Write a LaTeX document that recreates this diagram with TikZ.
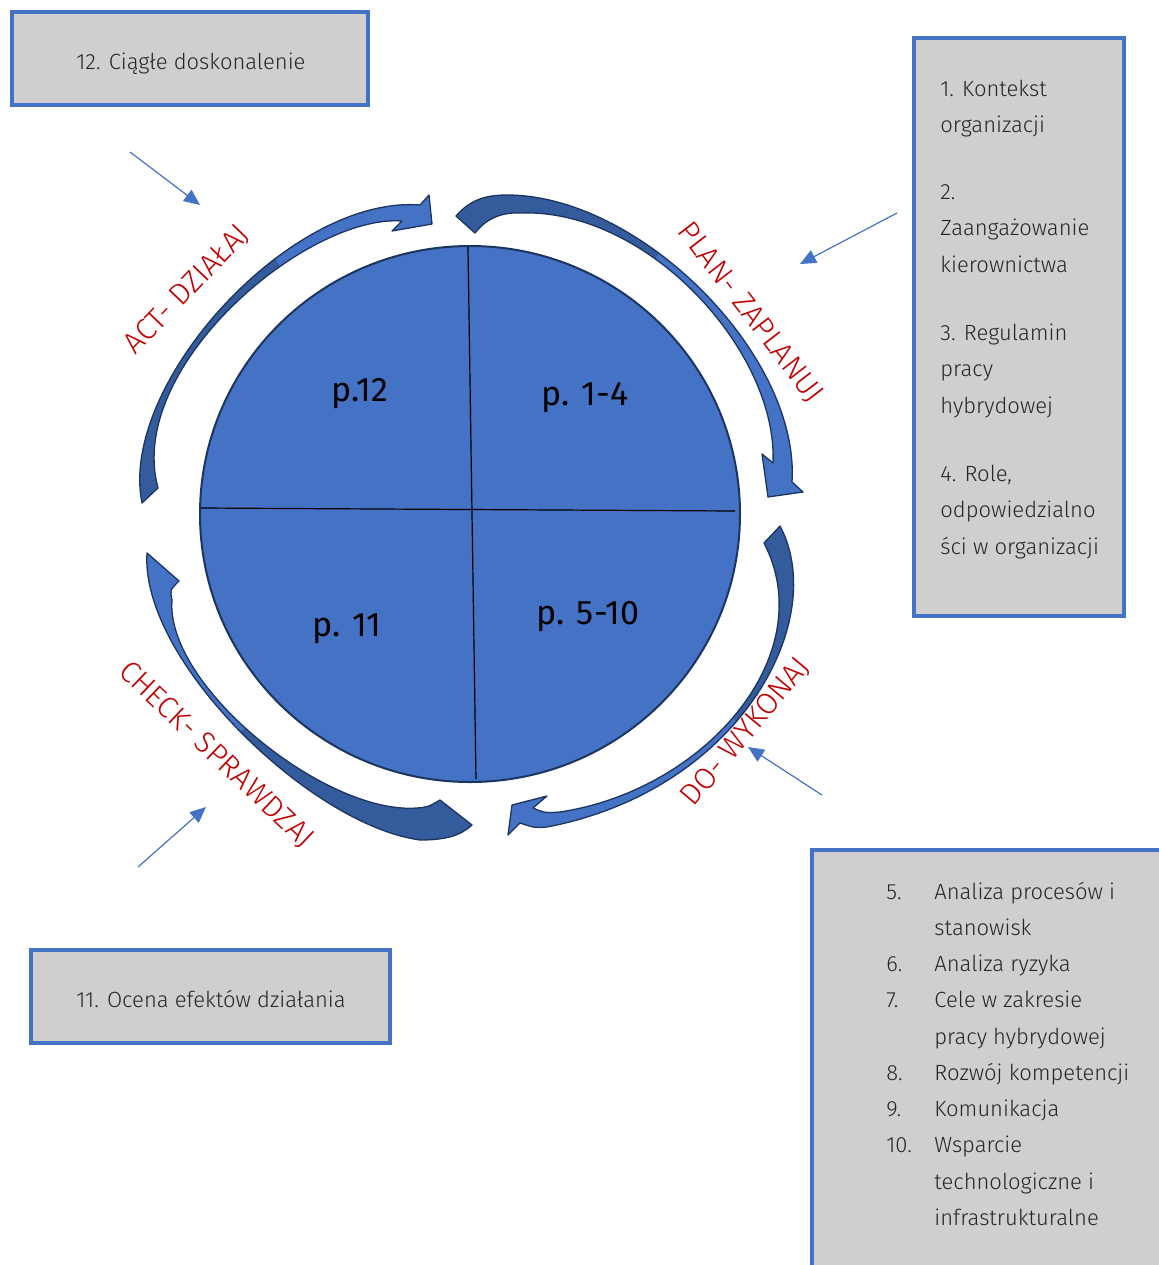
\documentclass[tikz,border=0pt]{standalone}
\usepackage{fontspec}
\IfFontExistsTF{Fira Sans Light}{\setmainfont{Fira Sans Light}}{\setmainfont{Fira Sans}}
\newfontfamily\regfont{Fira Sans}
\usetikzlibrary{arrows.meta}
\definecolor{ablue}{HTML}{4472C4}
\definecolor{adark}{HTML}{345B9C}
\definecolor{aline}{HTML}{1C355E}
\definecolor{boxgray}{HTML}{D0CECE}
\definecolor{lblred}{HTML}{C00000}
\definecolor{txt}{HTML}{262626}
\begin{document}
\begin{tikzpicture}[x=0.5pt,y=-0.5pt,
  infobox/.style={draw=ablue, line width=2pt, fill=boxgray},
  boxtext/.style={anchor=base west, inner sep=0pt, font=\fontsize{11}{13}\selectfont, text=txt},
  phase/.style={font=\fontsize{15}{17}\selectfont, text=lblred, inner sep=0pt},
  qlabel/.style={font=\regfont\fontsize{17}{19}\selectfont, text=black, inner sep=0pt},
  pointer/.style={draw=ablue, line width=0.6pt, -{Triangle[length=8pt,width=7pt]}},
  band/.style={draw=aline, line width=0.65pt, line join=round},
  divider/.style={draw=black, line width=0.6pt}
]
\useasboundingbox (0,0) rectangle (1159,1265);

% ---------- boxes ----------
\path[infobox] (12,12) rectangle (368,105);
\node[boxtext] (t12) at (76,69) {12. Ciągłe doskonalenie};

\path[infobox] (914,38) rectangle (1124,616);
\node[boxtext] (t1a) at (940,96) {1. Kontekst};
\node[boxtext] (t1b) at (940,132) {organizacji};
\node[boxtext] (t2a) at (940,199) {2.};
\node[boxtext] (t2b) at (940,235.5) {Zaangażowanie};
\node[boxtext] (t2c) at (940,272) {kierownictwa};
\node[boxtext] (t3a) at (940,340) {3. Regulamin};
\node[boxtext] (t3b) at (940,376.5) {pracy};
\node[boxtext] (t3c) at (940,413) {hybrydowej};
\node[boxtext] (t4a) at (940,481) {4. Role,};
\node[boxtext] (t4b) at (940,517.5) {odpowiedzialno};
\node[boxtext] (t4c) at (940,554) {ści w organizacji};

\begin{scope}
  \clip (0,0) rectangle (1159,1265);
  \path[infobox] (812,850) rectangle (1175,1290);
\end{scope}
\node[boxtext] (n5) at (886,899) {5.};
\node[boxtext] (i5a) at (934,899) {Analiza procesów i};
\node[boxtext] (i5b) at (934,935) {stanowisk};
\node[boxtext] (n6) at (886,971) {6.};
\node[boxtext] (i6) at (934,971) {Analiza ryzyka};
\node[boxtext] (n7) at (886,1007) {7.};
\node[boxtext] (i7a) at (934,1007) {Cele w zakresie};
\node[boxtext] (i7b) at (934,1044) {pracy hybrydowej};
\node[boxtext] (n8) at (886,1080) {8.};
\node[boxtext] (i8) at (934,1080) {Rozwój kompetencji};
\node[boxtext] (n9) at (886,1116) {9.};
\node[boxtext] (i9) at (934,1116) {Komunikacja};
\node[boxtext] (n10) at (886,1152) {10.};
\node[boxtext] (i10a) at (934,1152) {Wsparcie};
\node[boxtext] (i10b) at (934,1189) {technologiczne i};
\node[boxtext] (i10c) at (934,1225) {infrastrukturalne};

\path[infobox] (31,950) rectangle (390,1043);
\node[boxtext] (t11) at (76,1007) {11. Ocena efektów działania};

% ---------- central circle ----------
\draw[draw=aline, line width=1pt, fill=ablue] (470,514) ellipse [x radius=135pt, y radius=134pt];
\coordinate (vtop) at (468,247);
\coordinate (vbot) at (476,779);
\coordinate (hl) at (201,508);
\coordinate (hr) at (735,511);
\draw[divider] (vtop) -- (vbot);
\draw[divider] (hl) -- (hr);
\node[qlabel] (q12) at (360,394) {p.12};
\node[qlabel] (q14) at (585,398) {p. 1-4};
\node[qlabel] (q11) at (347,629) {p. 11};
\node[qlabel] (q510) at (588,617) {p. 5-10};

% ---------- ACT arrow ----------
\begin{scope}
  \clip (142,503) .. controls (118,385) and (290,195) .. (420,205) -- (429,195) -- (432,224) -- (392,231) -- (402,221) .. controls (307,214) and (125,367) .. (158,488) -- cycle;
  \fill[ablue] (100,150) rectangle (450,520);
  \fill[adark] (215,158) -- (335,358) -- (335,560) -- (60,560) -- (60,158) -- cycle;
\end{scope}
\draw[band] (142,503) .. controls (118,385) and (290,195) .. (420,205) -- (429,195) -- (432,224) -- (392,231) -- (402,221) .. controls (307,214) and (125,367) .. (158,488) -- cycle;

% ---------- PLAN arrow ----------
\begin{scope}
  \clip (456,216) .. controls (470,200) and (485,195) .. (507,195) .. controls (640,195) and (800,355) .. (792,482) -- (803,492) -- (768,497) -- (762,454) -- (773,463) .. controls (778,352) and (648,208) .. (520,213) .. controls (500,212) and (485,220) .. (475,233) -- cycle;
  \fill[ablue] (430,170) rectangle (830,520);
  \fill[adark] (612,316) -- (702,196) -- (702,150) -- (420,150) -- (420,316) -- cycle;
\end{scope}
\draw[band] (456,216) .. controls (470,200) and (485,195) .. (507,195) .. controls (640,195) and (800,355) .. (792,482) -- (803,492) -- (768,497) -- (762,454) -- (773,463) .. controls (778,352) and (648,208) .. (520,213) .. controls (500,212) and (485,220) .. (475,233) -- cycle;

% ---------- DO arrow ----------
\begin{scope}
  \clip (780,526) .. controls (830,620) and (740,790) .. (547,827) .. controls (535,828) .. (520,823) -- (508,835) -- (512,805) -- (547,796) -- (533,808) .. controls (545,813) .. (560,812) .. controls (705,790) and (822,655) .. (764,543) -- cycle;
  \fill[ablue] (490,500) rectangle (850,860);
  \fill[adark] (693,675) -- (777,765) -- (850,765) -- (850,500) -- (693,500) -- cycle;
\end{scope}
\draw[band] (780,526) .. controls (830,620) and (740,790) .. (547,827) .. controls (535,828) .. (520,823) -- (508,835) -- (512,805) -- (547,796) -- (533,808) .. controls (545,813) .. (560,812) .. controls (705,790) and (822,655) .. (764,543) -- cycle;

% ---------- CHECK arrow ----------
\begin{scope}
  \clip (440,800) -- (472,825) .. controls (460,836) and (445,840) .. (420,840) .. controls (310,825) and (140,660) .. (147,553) -- (179,581) .. controls (170,590) .. (172,600) .. controls (165,685) and (325,815) .. (417,808) .. controls (428,807) .. (440,800) -- cycle;
  \fill[ablue] (120,530) rectangle (500,870);
  \fill[adark] (190,783) -- (290,683) -- (520,683) -- (520,880) -- (190,880) -- cycle;
\end{scope}
\draw[band] (440,800) -- (472,825) .. controls (460,836) and (445,840) .. (420,840) .. controls (310,825) and (140,660) .. (147,553) -- (179,581) .. controls (170,590) .. (172,600) .. controls (165,685) and (325,815) .. (417,808) .. controls (428,807) .. (440,800) -- cycle;

% ---------- phase labels ----------
\node[phase, rotate=46] (lact) at (187,290) {ACT- DZIAŁAJ};
\node[phase, rotate=-52.5] (lplan) at (750,313) {PLAN- ZAPLANUJ};
\node[phase, rotate=-43.5] (lcheck) at (216,755) {CHECK- SPRAWDZAJ};
\node[phase, rotate=50] (ldo) at (746,732) {DO- WYKONAJ};

% ---------- pointer arrows ----------
\coordinate (p1s) at (130,152); \coordinate (p1e) at (200,205);
\coordinate (p2s) at (897,213); \coordinate (p2e) at (800,264);
\coordinate (p3s) at (822,795); \coordinate (p3e) at (748,747);
\coordinate (p4s) at (138,867); \coordinate (p4e) at (206,807);
\draw[pointer] (p1s) -- (p1e);
\draw[pointer] (p2s) -- (p2e);
\draw[pointer] (p3s) -- (p3e);
\draw[pointer] (p4s) -- (p4e);
\end{tikzpicture}
\end{document}
